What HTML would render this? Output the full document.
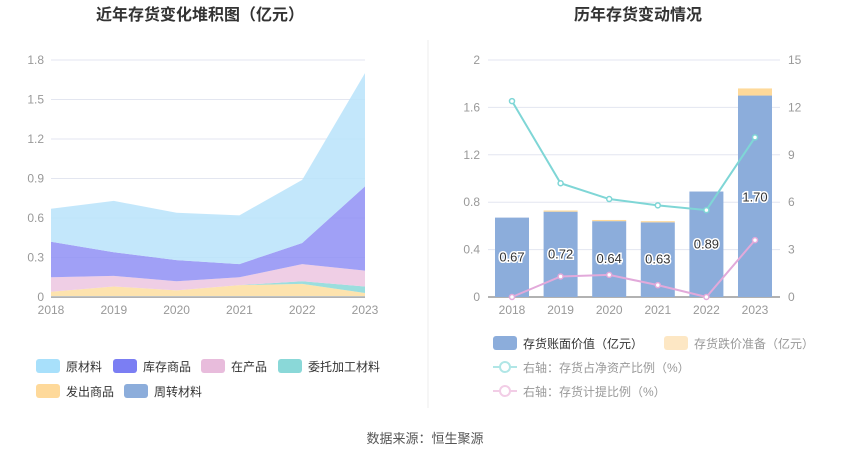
<!DOCTYPE html>
<html><head><meta charset="utf-8">
<style>
body{margin:0;background:#fff;width:850px;height:459px;overflow:hidden;font-family:"Liberation Sans","Noto Sans CJK SC",sans-serif;}
svg text{font-family:"Liberation Sans","Noto Sans CJK SC",sans-serif;}
</style></head><body>
<svg id="s" width="850" height="459">
<text x="200" y="20" text-anchor="middle" font-size="16" font-weight="bold" fill="#333">近年存货变化堆积图（亿元）</text>
<text x="638" y="20" text-anchor="middle" font-size="16" font-weight="bold" fill="#333">历年存货变动情况</text>
<line x1="428" y1="40" x2="428" y2="408" stroke="#eee"/>
<g id="L"></g><g id="R"></g>
<text x="425" y="443" text-anchor="middle" font-size="13" fill="#555">数据来源：恒生聚源</text>
</svg>
<script>
const years=['2018','2019','2020','2021','2022','2023'];
const zhouzhuan=[0.005,0.005,0.005,0.005,0.005,0.005];
const fachu=[0.035,0.075,0.045,0.085,0.095,0.025];
const weituo=[0,0,0,0,0.02,0.05];
const zaichan=[0.11,0.08,0.07,0.06,0.13,0.12];
const kucun=[0.27,0.18,0.16,0.10,0.16,0.64];
const yuancai=[0.25,0.39,0.36,0.37,0.48,0.86];
const leftTicks=['0','0.3','0.6','0.9','1.2','1.5','1.8'];
const bookVal=[0.67,0.72,0.64,0.63,0.89,1.70];
const reserve=[0,0.01,0.01,0.01,0,0.06];
const ratioNet=[12.4,7.2,6.2,5.8,5.5,10.1];
const ratioProv=[0,1.3,1.4,0.75,0,3.6];
const rightTicksL=['0','0.4','0.8','1.2','1.6','2'];
const rightTicksR=['0','3','6','9','12','15'];
const NS='http://www.w3.org/2000/svg';
function mk(p,t,a){const e=document.createElementNS(NS,t);for(const k in a)e.setAttribute(k,a[k]);p.appendChild(e);return e;}
// left
const L=document.getElementById('L');
const lx=i=>51+i*(365-51)/5, ly=v=>297-v*(237/1.8);
leftTicks.forEach(t=>{const v=parseFloat(t);
 const g=mk(L,'line',{x1:51,x2:365,y1:ly(v),y2:ly(v),stroke:v?'#e3e6f0':'#666'});
 
 
 const tx=mk(L,'text',{x:44,y:ly(v)+4,'text-anchor':'end','font-size':12,fill:'#999'});tx.textContent=t;
 
 });
years.forEach((y,i)=>{const tx=mk(L,'text',{x:lx(i),y:314,'text-anchor':'middle','font-size':12,fill:'#999'});tx.textContent=y;
 
 });
const layers=[[zhouzhuan,'#8caddb','zhouzhuan'],[fachu,'#fddea0','fachu'],[weituo,'#8ad8d8','weituo'],[zaichan,'#ecc6e0','zaichan'],[kucun,'#8f8ff5','kucun'],[yuancai,'#b8e3fa','yuancai']];
let base=years.map(()=>0);
layers.forEach(([arr,c,n])=>{const top=base.map((b,i)=>b+arr[i]);
 let d='M'+top.map((v,i)=>lx(i)+','+ly(v)).join('L')+'L'+base.map((v,i)=>lx(i)+','+ly(v)).reverse().join('L')+'Z';
 const p=mk(L,'path',{d:d,fill:c,opacity:0.85});
 
 
 base=top;});
const leg=[['原材料','#a8e0fb',36,366],['库存商品','#7b7ef3',113,366],['在产品','#e8bcdc',201,366],['委托加工材料','#8ad8d8',278,366],['发出商品','#fed99a',36,391],['周转材料','#8caddb',124,391]];
leg.forEach(([t,c,x,y])=>{const r=mk(L,'rect',{x:x,y:y-7,width:24,height:14,rx:3,fill:c});
 
 
 const tx=mk(L,'text',{x:x+30,y:y+5,'font-size':12,fill:'#333'});tx.textContent=t;
 
 });
// right
const R=document.getElementById('R');
const rx=i=>512+i*48.6, ry=v=>297-v*(237/2), ry2=v=>297-v*(237/15);
rightTicksL.forEach((t,j)=>{const v=parseFloat(t);
 const g=mk(R,'line',{x1:488,x2:780,y1:ry(v),y2:ry(v),stroke:v?'#e3e6f0':'#666'});
 
 
 const tx=mk(R,'text',{x:480,y:ry(v)+4,'text-anchor':'end','font-size':12,fill:'#999'});tx.textContent=t;
 
 
 const t2=mk(R,'text',{x:788,y:ry(v)+4,'font-size':12,fill:'#999'});t2.textContent=rightTicksR[j];
 
 });
years.forEach((y,i)=>{const tx=mk(R,'text',{x:rx(i),y:314,'text-anchor':'middle','font-size':12,fill:'#999'});tx.textContent=y;
 
 
 const b=mk(R,'rect',{x:rx(i)-17,y:ry(bookVal[i]),width:34,height:297-ry(bookVal[i]),fill:'#8caddb'});
 
 
 if(reserve[i]>0){const r=mk(R,'rect',{x:rx(i)-17,y:ry(bookVal[i]+reserve[i]),width:34,height:ry(bookVal[i])-ry(bookVal[i]+reserve[i]),fill:'#fed99a'});
 
 }});
function line(arr,c,n){const p=mk(R,'polyline',{points:arr.map((v,i)=>rx(i)+','+ry2(v)).join(' '),fill:'none',stroke:c,'stroke-width':2});
 
 
 arr.forEach((v,i)=>{const ci=mk(R,'circle',{cx:rx(i),cy:ry2(v),r:2.5,fill:'#fff',stroke:c,'stroke-width':1.5});
 
 });}
line(ratioNet,'#7fd6d6','line-net-asset-ratio');
line(ratioProv,'#e2a9da','line-provision-ratio');
years.forEach((y,i)=>{const v=bookVal[i];const yy=i==5?ry(v)+106:(ry(v)+297)/2+4;
 const tx=mk(R,'text',{x:rx(i),y:yy,'text-anchor':'middle','font-size':13,fill:'#333',stroke:'#fff','stroke-width':3,'paint-order':'stroke'});tx.textContent=v.toFixed(2);
 
 });
const rl=[['rect','#8caddb','存货账面价值（亿元）',493,343,'#333'],['rect','#fde7c4','存货跌价准备（亿元）',664,343,'#999'],['line','#b0e6e6','右轴：存货占净资产比例（%）',493,367,'#999'],['line','#f2cde6','右轴：存货计提比例（%）',493,391,'#999']];
rl.forEach(([k,c,t,x,y,tc])=>{let e;
 if(k=='rect')e=mk(R,'rect',{x:x,y:y-7,width:24,height:14,rx:3,fill:c});
 else{e=mk(R,'g',{});mk(e,'line',{x1:x,x2:x+24,y1:y,y2:y,stroke:c,'stroke-width':2});mk(e,'circle',{cx:x+12,cy:y,r:5,fill:'#fff',stroke:c,'stroke-width':2});}
 
 
 const tx=mk(R,'text',{x:x+30,y:y+5,'font-size':12,fill:tc});tx.textContent=t;
 
 });
</script>
</body></html>
